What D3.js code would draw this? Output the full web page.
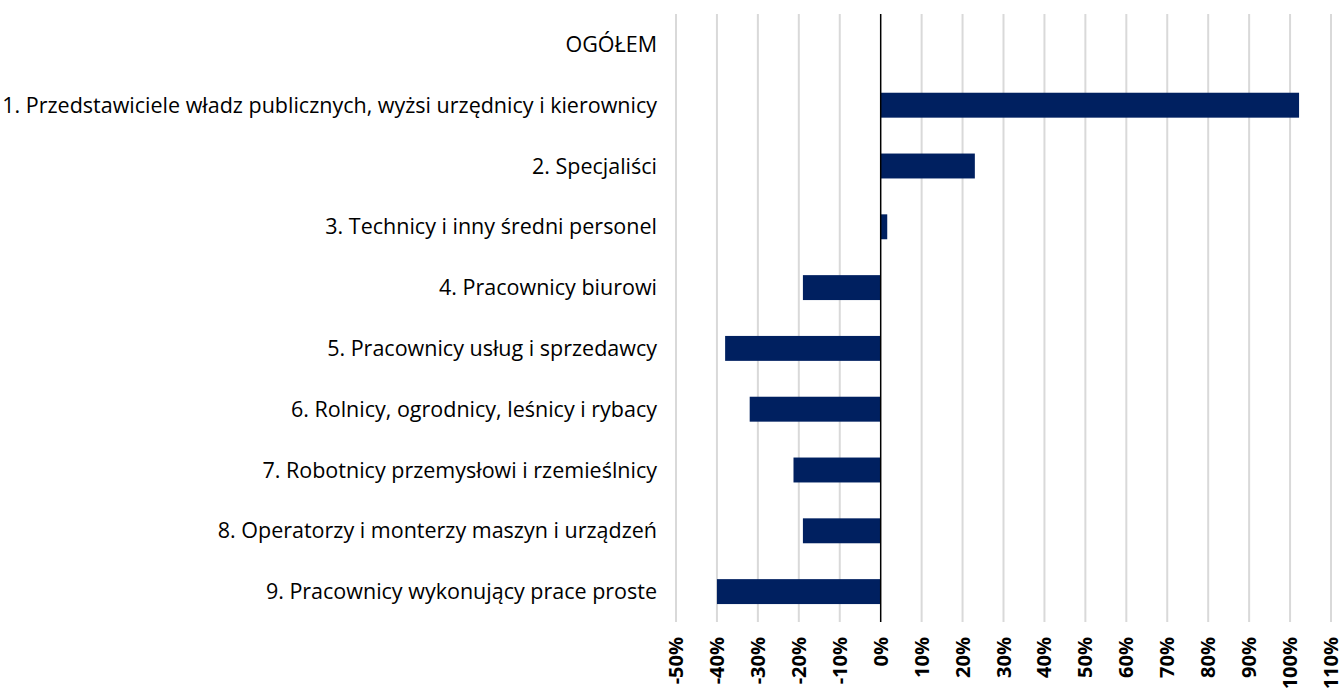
<!DOCTYPE html>
<html>
<head>
  <meta charset="utf-8">
  <title>Zmiana wg grup zawodów</title>
  <style>
    body { margin: 0; background: #fff; }
    svg { font-family: "Open Sans", Lato, sans-serif; }
    .cat-label { font-size: 21.5px; fill: #000; }
    .tick-label { font-size: 20px; font-weight: bold; fill: #000; }
    .grid { stroke: #d9d9d9; stroke-width: 2px; }
    .bar { fill: #002060; }
    .zero { stroke: #000; stroke-width: 1.5px; }
  </style>
</head>
<body>
  <svg id="chart" width="1341" height="688"></svg>

  <script src="https://d3js.org/d3.v7.min.js"></script>
  <script>
    const categories = [
      "OGÓŁEM",
      "1. Przedstawiciele władz publicznych, wyżsi urzędnicy i kierownicy",
      "2. Specjaliści ",
      "3. Technicy i inny średni personel",
      "4. Pracownicy biurowi",
      "5. Pracownicy usług i sprzedawcy",
      "6. Rolnicy, ogrodnicy, leśnicy i rybacy",
      "7. Robotnicy przemysłowi i rzemieślnicy",
      "8. Operatorzy i monterzy maszyn i urządzeń",
      "9. Pracownicy wykonujący prace proste"
    ];
    const values = [0, 102.2, 23, 1.6, -19, -38, -32, -21.3, -19, -40];
    const ticks = [-50, -40, -30, -20, -10, 0, 10, 20, 30, 40, 50, 60, 70, 80, 90, 100, 110];

    const margin = { top: 14, right: 11, bottom: 66, left: 676 };
    const width = 1341 - margin.left - margin.right;
    const height = 688 - margin.top - margin.bottom;

    const svg = d3.select("#chart")
      .append("g")
      .attr("transform", `translate(${margin.left},${margin.top})`);

    const x = d3.scaleLinear().domain([-50, 110]).range([0, 1331 - margin.left]);
    const y = d3.scaleBand().domain(categories).range([0, height]).paddingInner(0.59).paddingOuter(0.295);

    // gridlines
    svg.selectAll(".grid")
      .data(ticks.filter(t => t !== 0))
      .enter().append("line")
      .attr("class", "grid")
      .attr("x1", d => x(d)).attr("x2", d => x(d))
      .attr("y1", 0).attr("y2", height);

    // bars
    svg.selectAll(".bar")
      .data(categories)
      .enter().append("rect")
      .attr("class", "bar")
      .attr("x", (d, i) => x(Math.min(0, values[i])))
      .attr("width", (d, i) => Math.abs(x(values[i]) - x(0)))
      .attr("y", d => y(d))
      .attr("height", y.bandwidth());

    // zero line
    svg.append("line")
      .attr("class", "zero")
      .attr("x1", x(0)).attr("x2", x(0))
      .attr("y1", 0).attr("y2", height);

    // category labels
    svg.selectAll(".cat-label")
      .data(categories)
      .enter().append("text")
      .attr("class", "cat-label")
      .attr("x", -19)
      .attr("y", d => y(d) + y.bandwidth() / 2)
      .attr("dy", "0.35em")
      .attr("text-anchor", "end")
      .text(d => d);

    // x tick labels, rotated (the last one runs off the edge, as in the original)
    svg.selectAll(".tick-label")
      .data(ticks)
      .enter().append("text")
      .attr("class", "tick-label")
      .attr("transform", d => `translate(${x(d)},${height + 15}) rotate(-90)`)
      .attr("text-anchor", "end")
      .attr("dy", "0.35em")
      .text(d => d + "%");
  </script>
</body>
</html>
